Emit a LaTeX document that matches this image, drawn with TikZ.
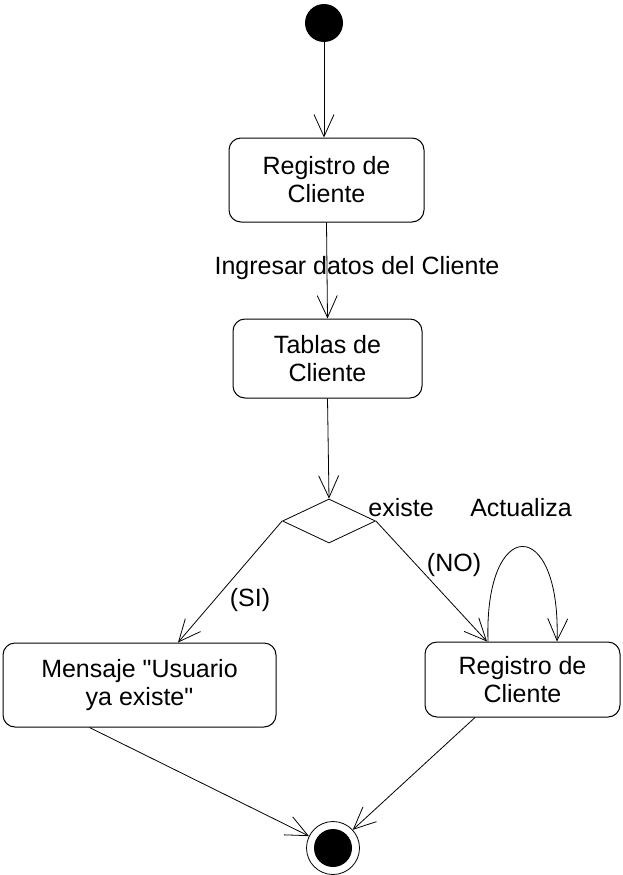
\documentclass[tikz,border=0pt]{standalone}
\usepackage{fontspec}
\setmainfont{Liberation Sans}
\usetikzlibrary{arrows.meta,shapes.geometric}
\begin{document}
\begin{tikzpicture}[x=1pt,y=-1pt,
  every node/.style={font=\fontsize{25}{28}\selectfont},
  actbox/.style={draw,line width=1pt,rounded corners=12pt,align=center,inner sep=0pt},
  flow/.style={line width=0.8pt,-{Straight Barb[length=22pt,width=20pt,line width=0.8pt]}},
  lbl/.style={inner sep=0pt}]
\useasboundingbox (0,0) rectangle (622,875);
\node[circle,fill=black,minimum size=38pt,inner sep=0pt] (start) at (324,23) {};
\node[actbox,minimum width=195pt,minimum height=84pt] (b1) at (326.5,180) {Registro de\\Cliente};
\node[actbox,minimum width=189pt,minimum height=79pt] (b2) at (327.5,358.5) {Tablas de\\Cliente};
\node[diamond,draw,line width=0.8pt,minimum width=93pt,minimum height=44pt,inner sep=0pt] (d) at (329,521) {};
\node[actbox,minimum width=273pt,minimum height=84pt] (b3) at (139.5,685) {Mensaje \textquotedbl Usuario\\ya existe\textquotedbl};
\node[actbox,minimum width=195pt,minimum height=75pt] (b4) at (522.5,679.5) {Registro de\\Cliente};
\node[circle,draw,line width=0.8pt,minimum size=53pt,inner sep=0pt] (end) at (333,848) {};
\node[circle,fill=black,minimum size=38pt,inner sep=0pt] (endin) at (333,848) {};
\draw[flow] (start) -- (start |- b1.north);
\draw[flow] (b1.south) -- (b2.north);
\node[lbl] (l1) at (357,268) {Ingresar datos del Cliente};
\draw[flow] (b2.south) -- (d.north);
\node[lbl] (l2) at (401,508) {existe};
\node[lbl] (l3) at (521,508) {Actualiza};
\draw[flow] (d.west) -- ([xshift=38.5pt]b3.north);
\node[lbl] (l4) at (250,600) {(SI)};
\draw[flow] (d.east) -- ([xshift=-35.5pt]b4.north);
\node[lbl] (l5) at (454,565) {(NO)};
\draw[flow] ([xshift=-34.5pt]b4.north) .. controls (484,515) and (561,515) .. ([xshift=34.5pt]b4.north);
\draw[flow] ([xshift=-50pt]b3.south) -- (end);
\draw[flow] ([xshift=-47.5pt]b4.south) -- (end);
\end{tikzpicture}
\end{document}
